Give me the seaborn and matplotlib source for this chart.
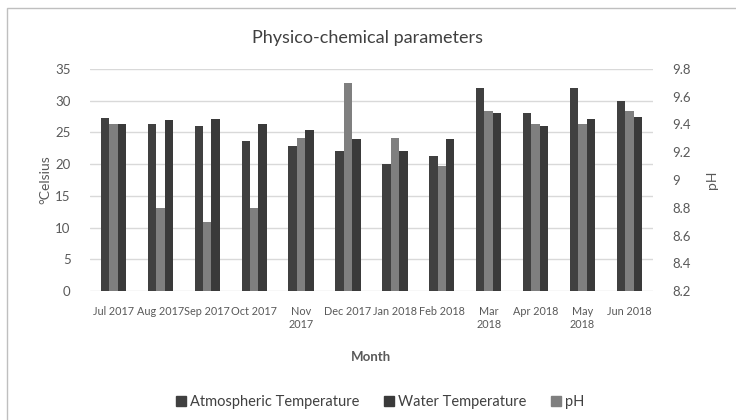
import pandas as pd
import numpy as np
import matplotlib.pyplot as plt
import seaborn as sns
from matplotlib.patches import Patch, Rectangle

# data
months = ['Jul 2017', 'Aug 2017', 'Sep 2017', 'Oct 2017', 'Nov\n2017', 'Dec 2017',
          'Jan 2018', 'Feb 2018', 'Mar\n2018', 'Apr 2018', 'May\n2018', 'Jun 2018']
atm_temp = [27.3, 26.3, 26.0, 23.7, 22.8, 22.0, 20.0, 21.2, 32.0, 28.1, 32.0, 30.0]
water_temp = [26.3, 27.0, 27.1, 26.3, 25.3, 24.0, 22.0, 24.0, 28.1, 26.0, 27.1, 27.4]
ph = [9.4, 8.8, 8.7, 8.8, 9.3, 9.7, 9.3, 9.1, 9.5, 9.4, 9.4, 9.5]

c_atm = '#404040'
c_water = '#3a3a3a'
c_ph = '#7f7f7f'

sns.set_style('white')
plt.rcParams['font.family'] = ['Lato', 'DejaVu Sans']

# primary axis: atm + (empty slot for pH) + water
df = pd.DataFrame({
    'Month': months * 3,
    'value': atm_temp + [0.0] * len(months) + water_temp,
    'series': ['Atmospheric Temperature'] * 12 + ['gap'] * 12 + ['Water Temperature'] * 12,
})
df_ph = pd.DataFrame({'Month': months, 'pH': ph})

fig = plt.figure(figsize=(7.36, 4.2), dpi=100)
ax = fig.add_axes([0.1223, 0.307, 0.7647, 0.529])

sns.barplot(data=df, x='Month', y='value', hue='series',
            hue_order=['Atmospheric Temperature', 'gap', 'Water Temperature'],
            palette=[c_atm, c_ph, c_water], width=0.54, saturation=1,
            linewidth=0, legend=False, ax=ax, zorder=2)

ax2 = ax.twinx()
sns.barplot(data=df_ph, x='Month', y='pH', color=c_ph, width=0.18,
            saturation=1, linewidth=0, ax=ax2, zorder=3)

ax.set_ylim(0, 35)
ax.set_yticks(np.arange(0, 36, 5))
ax2.set_ylim(8.2, 9.8)
ax2.set_yticks(np.round(np.arange(8.2, 9.81, 0.2), 1))
ax2.set_yticklabels(['8.2', '8.4', '8.6', '8.8', '9', '9.2', '9.4', '9.6', '9.8'])
ax.set_xlim(-0.5, 11.5)

ax.yaxis.grid(True, color='#d9d9d9', linewidth=1, zorder=0)
ax.set_axisbelow(True)
for a in (ax, ax2):
    for s in a.spines.values():
        s.set_visible(False)
    a.tick_params(length=0, labelsize=9.5, colors='#595959')
ax.tick_params(axis='y', pad=14)
ax2.tick_params(axis='y', pad=14)
ax.tick_params(axis='x', pad=11, labelsize=7.8)

ax.set_xlabel('Month', fontsize=9.5, fontweight='bold', color='#595959', labelpad=15)
ax.set_ylabel('°Celsius', fontsize=10, color='#595959', labelpad=3)
ax2.set_ylabel('pH', fontsize=10, color='#595959', labelpad=11)

fig.text(0.5, 0.91, 'Physico-chemical parameters', ha='center', va='center',
         fontsize=13, color='#404040')

handles = [Patch(color=c_atm, label='Atmospheric Temperature'),
           Patch(color=c_water, label='Water Temperature'),
           Patch(color=c_ph, label='pH')]
fig.legend(handles=handles, loc='center', bbox_to_anchor=(0.517, 0.043), ncol=3,
           frameon=False, fontsize=10.5, handlelength=0.65, handleheight=0.65,
           handletextpad=0.3, columnspacing=1.7, labelcolor='#404040')

# chart border
fig.patches.append(Rectangle((7 / 736, -0.05), 1.2, 1 - 8 / 420 + 0.05,
                             transform=fig.transFigure, fill=False,
                             edgecolor='#bfbfbf', linewidth=1))

fig.savefig('out.png', dpi=100)
